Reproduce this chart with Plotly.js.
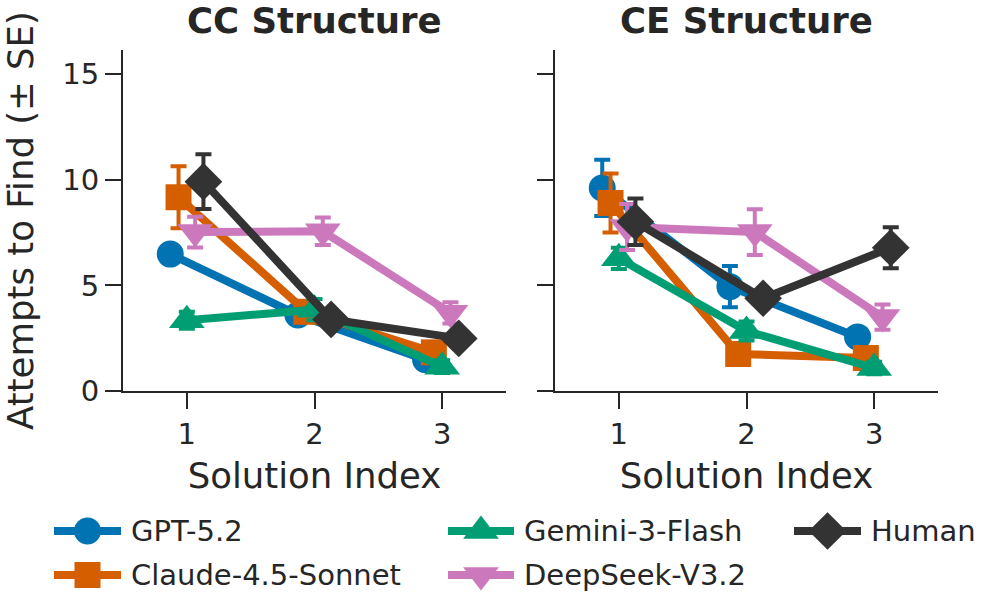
<!DOCTYPE html>
<html>
<head>
<meta charset="utf-8">
<script src="https://cdn.plot.ly/plotly-3.0.1.min.js"></script>
<style>
  html, body { margin: 0; padding: 0; background: #ffffff; }
  #chart { width: 997px; height: 609px; }
</style>
</head>
<body>
<div id="chart"></div>
<script>
// Attempts needed to find each solution, by structure and model (mean ± SE)
const solutionIndex = [1, 2, 3];
const tickLabels = ['1', '2', '3'];
const yTicks = [0, 5, 10, 15];
const panels = ['CC Structure', 'CE Structure'];
const models = ['GPT-5.2', 'Claude-4.5-Sonnet', 'Gemini-3-Flash', 'DeepSeek-V3.2', 'Human'];

// CC structure
const ccGpt       = [6.48, 3.60, 1.48];
const ccGptSE     = [0.40, 0.40, 0.30];
const ccClaude    = [9.17, 3.75, 1.83];
const ccClaudeSE  = [1.47, 0.40, 0.40];
const ccGemini    = [3.35, 3.85, 1.15];
const ccGeminiSE  = [0.40, 0.50, 0.30];
const ccDeepseek  = [7.52, 7.56, 3.70];
const ccDeepseekSE= [0.73, 0.65, 0.50];
const ccHuman     = [9.91, 3.39, 2.49];
const ccHumanSE   = [1.30, 0.40, 0.30];

// CE structure
const ceGpt       = [9.61, 4.94, 2.56];
const ceGptSE     = [1.33, 0.98, 0.35];
const ceClaude    = [8.90, 1.75, 1.56];
const ceClaudeSE  = [1.40, 0.30, 0.30];
const ceGemini    = [6.28, 2.84, 1.09];
const ceGeminiSE  = [0.50, 0.45, 0.30];
const ceDeepseek  = [7.76, 7.52, 3.50];
const ceDeepseekSE= [1.09, 1.08, 0.60];
const ceHuman     = [8.01, 4.39, 6.78];
const ceHumanSE   = [1.10, 0.30, 0.97];

const ccMeans = [ccGpt, ccClaude, ccGemini, ccDeepseek, ccHuman];
const ccErrs  = [ccGptSE, ccClaudeSE, ccGeminiSE, ccDeepseekSE, ccHumanSE];
const ceMeans = [ceGpt, ceClaude, ceGemini, ceDeepseek, ceHuman];
const ceErrs  = [ceGptSE, ceClaudeSE, ceGeminiSE, ceDeepseekSE, ceHumanSE];

// Styling
const colors  = ['#0173b2', '#d55e00', '#029e73', '#cc78bc', '#333333'];
const symbols = ['circle', 'square', 'triangle-up', 'triangle-down', 'diamond'];
const sizes   = [27, 26, 31, 31, 29];
const dodge   = 0.065;
const ink     = '#262626';
const FONT    = 'DejaVu Sans, Liberation Sans, sans-serif';
const W = 997, H = 609;
const TICK_SIZE = 29, LABEL_SIZE = 35.5;

const traces = [];

function addPanel(means, errs, xa, ya) {
  models.forEach((name, i) => {
    const off = (i - 2) * dodge;
    traces.push({
      type: 'scatter',
      mode: 'lines+markers',
      name: name,
      x: solutionIndex.map(v => v + off),
      y: means[i],
      xaxis: xa, yaxis: ya,
      line: { color: colors[i], width: 8 },
      marker: { color: colors[i], symbol: symbols[i], size: sizes[i], opacity: 1, line: { width: 0 } },
      error_y: { type: 'data', array: errs[i], visible: true, color: colors[i], thickness: 4, width: 8 },
      cliponaxis: false,
      showlegend: false,
      hoverinfo: 'x+y+name'
    });
  });
}
addPanel(ccMeans, ccErrs, 'x', 'y');
addPanel(ceMeans, ceErrs, 'x2', 'y2');

// Legend, drawn on a hidden pixel-like axis at the bottom of the figure
const legendCols = [[54, 121], [448, 514], [794, 861]];
const legendRows = [531, 575];
const legendSlots = [[0, 0], [0, 1], [1, 0], [1, 1], [2, 0]]; // [column, row] per model
const annotations = [];
models.forEach((name, i) => {
  const [c, r] = legendSlots[i];
  const [x0, x1] = legendCols[c];
  const yRow = legendRows[r];
  traces.push({
    type: 'scatter',
    mode: 'lines+markers',
    x: [x0, (x0 + x1) / 2, x1],
    y: [yRow, yRow, yRow],
    xaxis: 'x3', yaxis: 'y3',
    line: { color: colors[i], width: 8 },
    marker: { color: colors[i], symbol: symbols[i], size: [0, sizes[i], 0], opacity: 1, line: { width: 0 } },
    cliponaxis: false,
    showlegend: false,
    hoverinfo: 'skip'
  });
  annotations.push({
    xref: 'paper', yref: 'paper',
    x: (x1 + 8) / W, y: 1 - yRow / H,
    xanchor: 'left', yanchor: 'middle',
    text: name, showarrow: false,
    font: { family: FONT, size: TICK_SIZE, color: ink }
  });
});

// Panel titles
const xDomains = [[123 / W, 506 / W], [555 / W, 938 / W]];
panels.forEach((t, k) => {
  annotations.push({
    xref: 'paper', yref: 'paper',
    x: (xDomains[k][0] + xDomains[k][1]) / 2, y: 1 - 21 / H,
    xanchor: 'center', yanchor: 'middle',
    text: '<b>' + t + '</b>', showarrow: false,
    font: { family: FONT, size: LABEL_SIZE, color: ink }
  });
});

const yDomain = [(H - 391) / H, (H - 50) / H];
const yRange = [0, 16.14];

const xAxisBase = {
  range: [0.5, 3.5],
  tickmode: 'array', tickvals: solutionIndex, ticktext: tickLabels,
  showline: true, linecolor: ink, linewidth: 2,
  ticks: 'outside', ticklen: 16, tickwidth: 2, tickcolor: ink,
  showgrid: false, zeroline: false,
  tickfont: { family: FONT, size: TICK_SIZE, color: ink },
  title: { text: 'Solution Index', font: { family: FONT, size: LABEL_SIZE, color: ink }, standoff: 13 },
  fixedrange: true
};
const yAxisBase = {
  domain: yDomain, range: yRange,
  tickmode: 'array', tickvals: yTicks, ticktext: yTicks.map(String),
  showline: true, linecolor: ink, linewidth: 2,
  ticks: 'outside', ticklen: 16, tickwidth: 2, tickcolor: ink,
  showgrid: false, zeroline: false,
  tickfont: { family: FONT, size: TICK_SIZE, color: ink },
  fixedrange: true
};

const layout = {
  width: W, height: H,
  margin: { l: 0, r: 0, t: 0, b: 0 },
  paper_bgcolor: '#ffffff', plot_bgcolor: '#ffffff',
  font: { family: FONT, color: ink },
  showlegend: false,
  xaxis:  Object.assign({}, xAxisBase, { domain: xDomains[0], anchor: 'y' }),
  xaxis2: Object.assign({}, xAxisBase, { domain: xDomains[1], anchor: 'y2' }),
  yaxis:  Object.assign({}, yAxisBase, { anchor: 'x',
            title: { text: 'Attempts to Find (± SE)', font: { family: FONT, size: LABEL_SIZE, color: ink }, standoff: 18 } }),
  yaxis2: Object.assign({}, yAxisBase, { anchor: 'x2', showticklabels: false }),
  xaxis3: { domain: [0, 1], range: [0, W], visible: false, fixedrange: true, anchor: 'y3' },
  yaxis3: { domain: [0, 0.16], range: [H, H - 0.16 * H], visible: false, fixedrange: true, anchor: 'x3' },
  annotations: annotations
};

Plotly.newPlot('chart', traces, layout, { displayModeBar: false, staticPlot: true });
</script>
</body>
</html>
